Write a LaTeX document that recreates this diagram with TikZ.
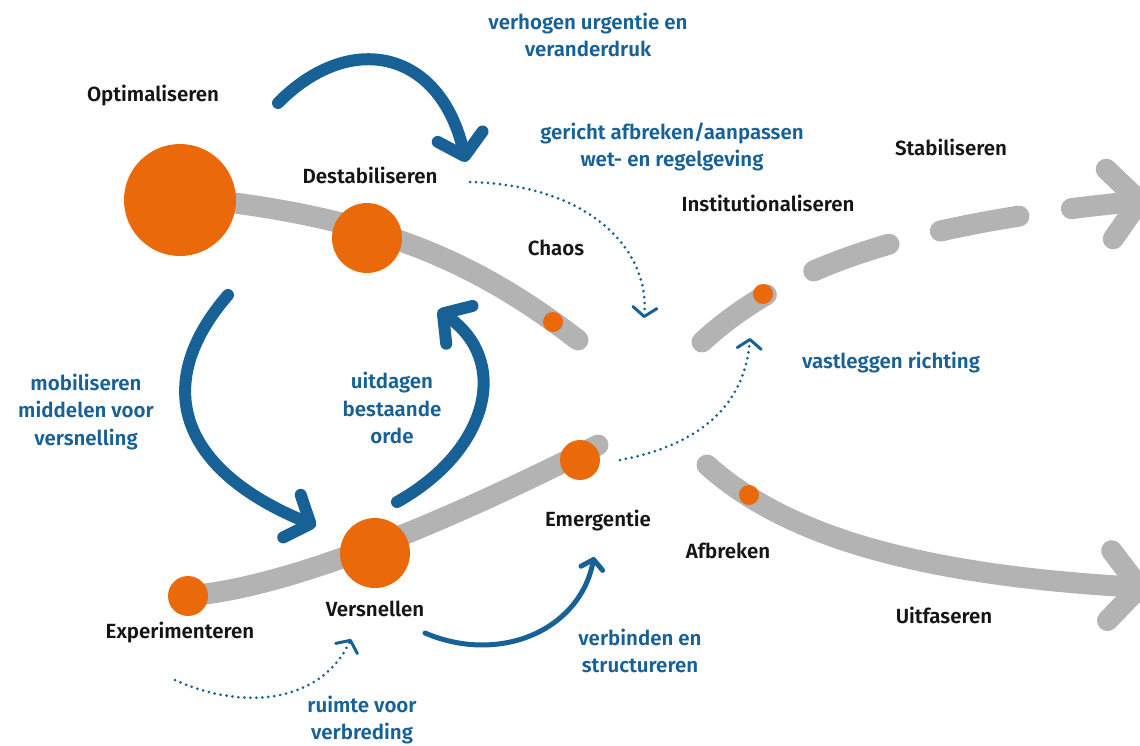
\documentclass[tikz,border=0pt]{standalone}
\usepackage{fontspec}
\setmainfont{Fira Sans}[BoldFont={Fira Sans SemiBold}]
\usetikzlibrary{arrows.meta}
\definecolor{trackgray}{HTML}{B3B3B3}
\definecolor{dotorange}{HTML}{EA690B}
\definecolor{pathblue}{HTML}{176196}
\definecolor{lblack}{HTML}{151515}

\begin{document}
\begin{tikzpicture}[x=1pt,y=-1pt,
    track/.style={draw=trackgray,line width=21pt,line cap=round},
    trackarrow/.style={track,-{Straight Barb[round,length=30pt,width=70pt]}},
    dot/.style={circle,fill=dotorange,inner sep=0pt},
    bigarrow/.style={draw=pathblue,line width=12pt,line cap=round,-{Straight Barb[round,length=20pt,width=46pt]}},
    thinarrow/.style={draw=pathblue,line width=5pt,line cap=round,-{Straight Barb[round,length=9pt,width=22pt]}},
    dotarrow/.style={draw=pathblue,line width=3pt,line cap=round,dash pattern=on 0pt off 6pt,-{Straight Barb[round,length=9pt,width=24pt]}},
    lbl/.style={font=\fontsize{20.5}{27.5}\selectfont\bfseries,text=lblack,inner sep=0pt},
    bluelbl/.style={lbl,text=pathblue,align=center}]
  \useasboundingbox (0,0) rectangle (1140,745);
  \clip (0,0) rectangle (1140,745);

  % grey tracks
  \coordinate (upA) at (180,197);
  \coordinate (upB) at (578,340);
  \coordinate (lowA) at (188,596);
  \coordinate (lowB) at (598,445);
  \coordinate (stabA) at (702,342);
  \coordinate (stabB) at (1150,200);
  \coordinate (uitA) at (707,465);
  \coordinate (uitB) at (1150,588);
  \draw[track] (upA) .. controls (380,215) and (480,265) .. (upB);
  \draw[track] (lowA) .. controls (280,588) and (420,535) .. (lowB);
  \draw[trackarrow,dash pattern=on 80pt off 53pt] (stabA) .. controls (780,270) and (900,225) .. (stabB);
  \draw[trackarrow] (uitA) .. controls (790,540) and (930,575) .. (uitB);

  % orange dots
  \node[dot,minimum size=112pt] (optdot) at (180,200) {};
  \node[dot,minimum size=70pt] (destdot) at (367,238) {};
  \node[dot,minimum size=20pt] (chaosdot) at (553,322) {};
  \node[dot,minimum size=20pt] (instdot) at (763,294) {};
  \node[dot,minimum size=20pt] (afbrdot) at (749,495) {};
  \node[dot,minimum size=40pt] (expdot) at (188,596) {};
  \node[dot,minimum size=70pt] (versdot) at (375,553) {};
  \node[dot,minimum size=40pt] (emdot) at (580,460) {};

  % black labels
  \node[lbl] (optim) at (153,96) {Optimaliseren};
  \node[lbl] (destab) at (370,175) {Destabiliseren};
  \node[lbl] (chaos) at (556,248) {Chaos};
  \node[lbl] (instit) at (768,203) {Institutionaliseren};
  \node[lbl] (stabil) at (951,147) {Stabiliseren};
  \node[lbl] (emerg) at (598,521) {Emergentie};
  \node[lbl] (afbr) at (728,551) {Afbreken};
  \node[lbl] (uitfas) at (944,615) {Uitfaseren};
  \node[lbl] (versn) at (375,609) {Versnellen};
  \node[lbl] (exper) at (180,633) {Experimenteren};

  % blue labels
  \node[bluelbl] (urgent) at (588,35) {verhogen urgentie en\\veranderdruk};
  \node[bluelbl] (regels) at (672,147) {gericht afbreken/aanpassen\\wet- en regelgeving};
  \node[bluelbl] (richting) at (891,363) {vastleggen richting};
  \node[bluelbl] (mobil) at (86,412) {mobiliseren\\middelen voor\\versnelling};
  \node[bluelbl] (uitdag) at (392,408) {uitdagen\\bestaande\\orde};
  \node[bluelbl] (verbind) at (640,651) {verbinden en\\structureren};
  \node[bluelbl] (ruimte) at (362,720) {ruimte voor\\verbreding};

  % blue arrows
  \coordinate (topS) at (278,103);
  \coordinate (topE) at (466,162);
  \coordinate (leftS) at (228,295);
  \coordinate (leftE) at (316,526);
  \coordinate (midS) at (397,502);
  \coordinate (midE) at (438,310);
  \coordinate (botS) at (425,633);
  \coordinate (botE) at (594,557);
  \draw[bigarrow] (topS) .. controls (350,30) and (440,50) .. (topE);
  \draw[bigarrow] (leftS) .. controls (150,385) and (180,470) .. (leftE);
  \draw[bigarrow] (midS) .. controls (490,450) and (510,360) .. (midE);
  \draw[thinarrow] (botS) .. controls (500,665) and (580,630) .. (botE);

  % dotted arrows
  \coordinate (regS) at (470,182);
  \coordinate (regE) at (644,318);
  \coordinate (ruimS) at (175,680);
  \coordinate (ruimE) at (351,639);
  \coordinate (richS) at (620,460);
  \coordinate (richE) at (750,338);
  \draw[dotarrow] (regS) .. controls (590,185) and (650,250) .. (regE);
  \draw[dotarrow] (ruimS) .. controls (240,710) and (320,705) .. (ruimE);
  \draw[dotarrow] (richS) .. controls (700,445) and (745,405) .. (richE);
\end{tikzpicture}
\end{document}
